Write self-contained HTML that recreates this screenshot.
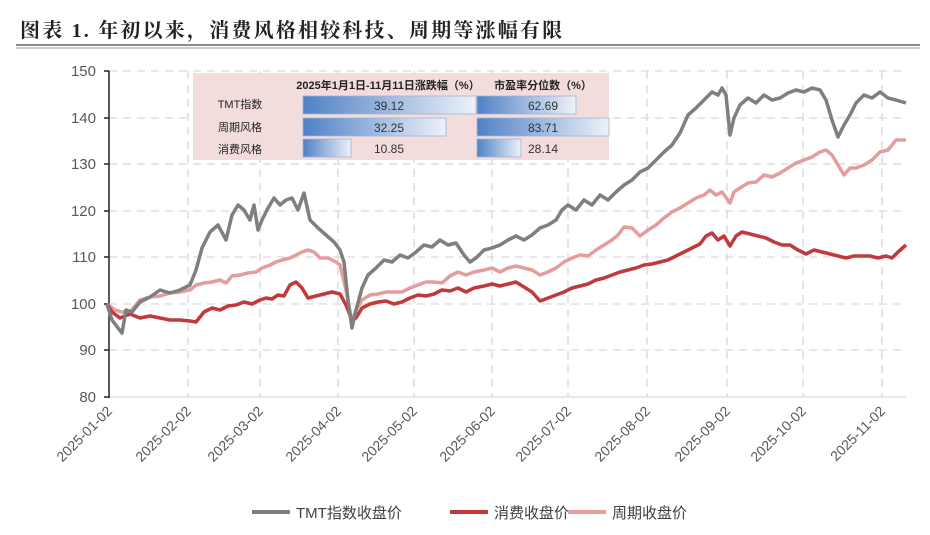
<!DOCTYPE html>
<html><head><meta charset="utf-8"><style>
body{margin:0;background:#fff;width:930px;height:530px;overflow:hidden}
svg{font-family:"Liberation Sans","Noto Sans CJK SC",sans-serif}
</style></head><body>
<svg width="930" height="530" xmlns="http://www.w3.org/2000/svg">
<text x="20" y="37" font-family="'Liberation Serif','Noto Serif CJK SC',serif" font-size="20" font-weight="bold" letter-spacing="2.2" fill="#222">图表 1. 年初以来，消费风格相较科技、周期等涨幅有限</text>
<line x1="16" y1="45" x2="920" y2="45" stroke="#666" stroke-width="1.5"/>
<line x1="16" y1="48" x2="920" y2="48" stroke="#999" stroke-width="1"/>
<g stroke="#d9d9d9" stroke-width="1.3" stroke-dasharray="8,6">
<line x1="109" y1="71" x2="906" y2="71"/><line x1="109" y1="118" x2="906" y2="118"/><line x1="109" y1="164" x2="906" y2="164"/><line x1="109" y1="211" x2="906" y2="211"/><line x1="109" y1="257" x2="906" y2="257"/><line x1="109" y1="304" x2="906" y2="304"/><line x1="109" y1="350" x2="906" y2="350"/>
<line x1="188" y1="71" x2="188" y2="397"/><line x1="260" y1="71" x2="260" y2="397"/><line x1="338" y1="71" x2="338" y2="397"/><line x1="414" y1="71" x2="414" y2="397"/><line x1="492" y1="71" x2="492" y2="397"/><line x1="568" y1="71" x2="568" y2="397"/><line x1="647" y1="71" x2="647" y2="397"/><line x1="727" y1="71" x2="727" y2="397"/><line x1="803" y1="71" x2="803" y2="397"/><line x1="882" y1="71" x2="882" y2="397"/>
</g>
<line x1="109" y1="397" x2="906" y2="397" stroke="#d9d9d9" stroke-width="1.3"/>
<line x1="109" y1="71" x2="109" y2="398" stroke="#222" stroke-width="1.5"/>
<g stroke="#222" stroke-width="1.5"><line x1="104" y1="71" x2="109" y2="71"/><line x1="104" y1="118" x2="109" y2="118"/><line x1="104" y1="164" x2="109" y2="164"/><line x1="104" y1="211" x2="109" y2="211"/><line x1="104" y1="257" x2="109" y2="257"/><line x1="104" y1="304" x2="109" y2="304"/><line x1="104" y1="350" x2="109" y2="350"/><line x1="104" y1="397" x2="109" y2="397"/></g>
<g font-size="15" fill="#595959" text-anchor="end">
<text x="96" y="76">150</text><text x="96" y="123">140</text><text x="96" y="169">130</text><text x="96" y="216">120</text><text x="96" y="262">110</text><text x="96" y="309">100</text><text x="96" y="355">90</text><text x="96" y="402">80</text>
</g>
<g font-size="14" fill="#595959" text-anchor="end">
<text transform="translate(113,412) rotate(-45)">2025-01-02</text>
<text transform="translate(192,412) rotate(-45)">2025-02-02</text>
<text transform="translate(264,412) rotate(-45)">2025-03-02</text>
<text transform="translate(342,412) rotate(-45)">2025-04-02</text>
<text transform="translate(418,412) rotate(-45)">2025-05-02</text>
<text transform="translate(496,412) rotate(-45)">2025-06-02</text>
<text transform="translate(572,412) rotate(-45)">2025-07-02</text>
<text transform="translate(651,412) rotate(-45)">2025-08-02</text>
<text transform="translate(731,412) rotate(-45)">2025-09-02</text>
<text transform="translate(807,412) rotate(-45)">2025-10-02</text>
<text transform="translate(886,412) rotate(-45)">2025-11-02</text>
</g>
<g fill="none" stroke-width="3.5" stroke-linejoin="round">
<polyline stroke="#e49d9d" points="107,304 115,310 122,312 130,312 140,300 150,297 160,296 170,293 180,292 190,290 196,285 204,283 212,282 220,280 226,283 232,276 240,275 248,273 256,272 262,268 270,265 276,262 282,260 290,258 296,255 302,252 308,250 314,252 320,258 328,258 336,262 340,265 346,290 352,322 356,310 362,300 370,295 378,294 386,292 394,292 402,292 410,288 418,285 426,282 434,282 442,283 450,276 458,272 466,275 474,272 484,270 492,268 500,272 508,268 516,266 524,268 532,270 540,275 548,272 556,268 564,262 572,258 580,255 588,256 596,250 604,245 612,240 618,235 624,227 632,228 640,236 648,230 656,225 664,218 672,212 680,208 688,203 696,198 704,195 710,190 716,195 722,192 730,203 734,192 740,188 748,183 756,182 764,175 772,177 780,173 788,168 796,163 804,160 812,157 820,152 826,150 832,155 838,165 844,175 850,168 856,168 864,165 872,160 880,152 888,150 896,140 906,140"/>
<polyline stroke="#c0393b" points="107,304 112,312 120,318 130,314 140,318 150,316 160,318 170,320 180,320 190,321 196,322 204,312 212,308 220,310 228,306 236,305 244,302 252,304 260,300 266,298 272,299 278,295 284,296 290,285 296,282 302,288 308,298 316,296 324,294 332,292 340,294 346,305 352,320 356,318 362,308 370,304 378,302 386,301 394,304 402,302 410,298 418,295 426,296 434,294 442,290 450,291 458,288 466,292 474,288 484,286 492,284 500,286 508,284 516,282 524,287 532,292 540,301 548,298 556,295 564,292 572,288 580,286 588,284 596,280 604,278 612,275 620,272 628,270 636,268 644,265 652,264 660,262 668,260 676,256 684,252 692,248 700,244 706,236 712,233 718,240 724,236 730,246 736,236 742,232 750,234 758,236 766,238 774,242 782,245 790,245 798,250 806,254 814,250 822,252 830,254 838,256 846,258 854,256 862,256 870,256 878,258 886,256 892,258 898,252 906,245"/>
<polyline stroke="#7f7f7f" points="107,304 112,320 118,328 122,333 126,310 132,312 140,302 150,297 160,290 170,293 180,290 190,285 196,270 202,248 210,232 218,225 226,240 232,215 238,205 244,210 250,220 254,205 258,230 262,220 268,208 274,198 280,205 286,200 292,198 298,210 304,193 310,220 318,228 326,235 334,242 340,250 344,262 348,300 352,328 356,310 362,288 368,275 376,268 384,260 392,262 400,255 408,258 416,252 424,245 432,247 440,240 448,245 456,243 464,255 470,262 476,258 484,250 492,248 500,245 508,240 516,236 524,240 532,235 540,228 548,225 556,220 562,210 568,205 576,210 584,200 592,205 600,195 608,200 616,192 624,185 632,180 640,172 648,168 656,160 664,152 672,145 680,133 688,115 696,108 704,100 712,92 718,95 722,88 726,95 730,135 734,118 740,105 748,98 756,103 764,95 772,100 780,98 788,93 796,90 804,92 812,88 820,90 826,100 832,120 838,137 844,125 850,115 856,103 864,95 872,98 880,92 888,98 896,100 906,103"/>
</g>
<defs><linearGradient id="bg" x1="0" x2="1"><stop offset="0" stop-color="#4f81c7"/><stop offset="1" stop-color="#eef2f8"/></linearGradient></defs>
<rect x="193" y="73" width="416" height="87" fill="#f2dcdc"/>
<g font-family="'Liberation Sans','Noto Sans CJK SC',sans-serif" font-size="11" fill="#222" text-anchor="middle">
<text x="388" y="89" font-weight="bold">2025年1月1日-11月11日涨跌幅（%）</text>
<text x="543" y="89" font-weight="bold">市盈率分位数（%）</text>
<text x="240" y="108">TMT指数</text><text x="240" y="131">周期风格</text><text x="240" y="153">消费风格</text>
</g>
<g stroke="#9db3d6" stroke-width="0.8" fill="url(#bg)">
<rect x="303" y="96" width="173" height="18"/><rect x="303" y="118" width="143" height="18"/><rect x="303" y="139" width="48" height="18"/>
<rect x="477" y="96" width="99" height="18"/><rect x="477" y="118" width="132" height="18"/><rect x="477" y="139" width="44" height="18"/>
</g>
<g font-size="12" fill="#333" text-anchor="middle">
<text x="389" y="110">39.12</text><text x="389" y="132">32.25</text><text x="389" y="153">10.85</text>
<text x="543" y="110">62.69</text><text x="543" y="132">83.71</text><text x="543" y="153">28.14</text>
</g>
<g font-size="15" fill="#404040">
<line x1="252" y1="512" x2="290" y2="512" stroke="#7f7f7f" stroke-width="4"/><text x="296" y="518">TMT指数收盘价</text>
<line x1="450" y1="512" x2="488" y2="512" stroke="#c0393b" stroke-width="4"/><text x="494" y="518">消费收盘价</text>
<line x1="568" y1="512" x2="606" y2="512" stroke="#e49d9d" stroke-width="4"/><text x="612" y="518">周期收盘价</text>
</g>
</svg>
</body></html>
